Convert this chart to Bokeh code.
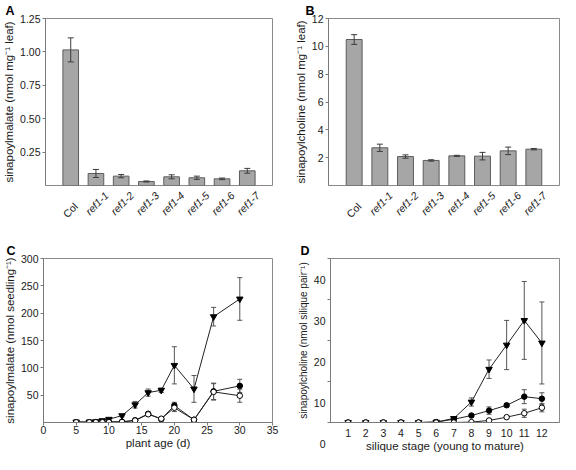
import math
from bokeh.plotting import figure
from bokeh.layouts import column, row
from bokeh.models import (ColumnDataSource, Range1d, FixedTicker,
                          PrintfTickFormatter, Whisker, TeeHead, Label)
from bokeh.embed import file_html
from bokeh.resources import INLINE

FONT = "Liberation Sans"
TEXT = "#1a1a1a"
AXIS = "#7a7a7a"

# ---------------- data ----------------
genotypes = ["Col", "ref1-1", "ref1-2", "ref1-3", "ref1-4", "ref1-5", "ref1-6", "ref1-7"]

malate_leaf = [1.015, 0.09, 0.07, 0.03, 0.065, 0.058, 0.05, 0.11]
malate_leaf_err = [0.09, 0.03, 0.012, 0.004, 0.015, 0.012, 0.006, 0.018]
malate_ticks = [0.25, 0.5, 0.75, 1.0, 1.25]

choline_leaf = [10.49, 2.71, 2.08, 1.80, 2.13, 2.11, 2.49, 2.61]
choline_leaf_err = [0.35, 0.26, 0.12, 0.05, 0.04, 0.27, 0.27, 0.05]
choline_ticks = [2, 4, 6, 8, 10, 12]

plant_age = [5, 7, 8, 9, 10, 12, 14, 16, 18, 20, 23, 26, 30]
c_tri = [1, 1, 1.5, 3.5, 6, 12.6, 32.5, 54.7, 59, 104.6, 61.4, 193.6, 226]
c_tri_err = [0.5, 0.5, 0.5, 1, 1.5, 2, 6, 6.5, 4, 34, 24.5, 17, 39]
c_fill = [0.5, 0.5, 0.8, 1, 1.2, 1.5, 4, 16, 6, 31, 5, 57, 67]
c_fill_err = [0, 0, 0, 0.5, 0.5, 0.5, 1, 2, 1.5, 6, 2, 15, 12]
c_open = [0.3, 0.3, 0.5, 0.5, 0.6, 1, 3.6, 15, 7, 27, 5, 56, 49]
c_open_err = [0, 0, 0, 0.3, 0.3, 0.5, 1, 2, 1.5, 7, 2, 15, 12]
c_xticks = [0, 5, 10, 15, 20, 25, 30, 35]
c_yticks = [50, 100, 150, 200, 250, 300]

silique_stage = [1, 2, 3, 4, 5, 6, 7, 8, 9, 10, 11, 12]
d_tri = [0, 0, 0, 0, 0, 0.1, 1.0, 5.0, 13.0, 18.9, 24.9, 19.4]
d_tri_err = [0, 0, 0, 0, 0, 0, 0.2, 1.0, 2.25, 6, 9.5, 10]
d_fill = [0, 0, 0, 0, 0, 0.1, 0.8, 1.7, 2.9, 4.2, 6.3, 5.8]
d_fill_err = [0, 0, 0, 0, 0, 0, 0.2, 0.3, 0.9, 0.4, 1.7, 1.45]
d_open = [0, 0, 0, 0, 0, 0, 0, 0.1, 0.5, 1.3, 2.25, 3.6]
d_open_err = [0, 0, 0, 0, 0, 0, 0, 0, 0.1, 0.3, 1.0, 1.0]
d_yticks = [0, 10, 20, 30, 40]

TICK_FS = "10.5px"
TITLE_FS = "11.5px"
TOP_H = 229
BOTTOM_H = 225


def style(p, letter_offset, letter_standoff):
    p.outline_line_color = "#8a8a8a"
    p.outline_line_width = 1
    p.xgrid.visible = False
    p.ygrid.visible = False
    for ax in p.axis:
        ax.axis_line_color = AXIS
        ax.major_tick_line_color = AXIS
        ax.minor_tick_line_color = None
        ax.major_tick_in = 0
        ax.major_tick_out = 3
        ax.major_label_standoff = 2
        ax.major_label_text_font = FONT
        ax.major_label_text_font_size = TICK_FS
        ax.major_label_text_color = TEXT
        ax.axis_label_text_font = FONT
        ax.axis_label_text_font_size = TITLE_FS
        ax.axis_label_text_font_style = "normal"
        ax.axis_label_text_color = TEXT
        ax.axis_label_standoff = 2
    p.title.text_font = FONT
    p.title.text_font_size = "12.5px"
    p.title.text_font_style = "bold"
    p.title.text_color = "black"
    p.title.align = "left"
    p.title.offset = letter_offset
    p.title.standoff = letter_standoff


def bar_panel(letter, values, errors, ticks, yend, ylabel, bl, br, letter_x, fmt=None):
    pos = list(range(1, len(genotypes) + 1))
    axis_label_pos = [x + 0.42 for x in pos]
    src = ColumnDataSource(dict(
        x=pos, v=values,
        lo=[v - e for v, e in zip(values, errors)],
        hi=[v + e for v, e in zip(values, errors)]))
    p = figure(width=280, height=TOP_H, title=letter,
               x_range=Range1d(0, len(genotypes) + 1),
               y_range=Range1d(0, yend),
               output_backend="svg", toolbar_location=None,
               min_border_left=bl, min_border_right=br,
               min_border_top=16, min_border_bottom=44)
    p.vbar(x="x", top="v", width=0.62, source=src,
           fill_color="#a6a6a6", line_color="#5c5c5c", line_width=1)
    w = Whisker(base="x", upper="hi", lower="lo", source=src, level="overlay",
                line_color="#3c3c3c", line_width=1,
                upper_head=TeeHead(size=6, line_color="#3c3c3c", line_width=1),
                lower_head=TeeHead(size=6, line_color="#3c3c3c", line_width=1))
    p.add_layout(w)
    style(p, -bl + letter_x, 2)
    p.yaxis.ticker = FixedTicker(ticks=ticks)
    if fmt:
        p.yaxis.formatter = PrintfTickFormatter(format=fmt)
    p.yaxis.axis_label = ylabel
    # mutant names (italic) on the axis, wild type "Col" upright as a label
    xax = p.xaxis[0]
    xax.ticker = FixedTicker(ticks=axis_label_pos[1:])
    xax.major_label_overrides = {lp: g for lp, g in zip(axis_label_pos[1:], genotypes[1:])}
    xax.major_label_orientation = math.pi / 4
    xax.major_label_text_font_style = "italic"
    xax.major_tick_line_color = None
    xax.axis_line_color = None          # frame outline draws the baseline
    xax.major_label_standoff = -15       # compensate the label panel above it
    col = Label(x=pos[0] + 0.2, y=0, y_offset=-19, text=genotypes[0],
                angle=math.pi / 4, text_align="right", text_baseline="middle",
                text_font=FONT, text_font_size=TICK_FS, text_color=TEXT)
    p.add_layout(col, "below")
    p.below = [col] + [r for r in p.below if r is not col]
    return p


def line_panel(letter, x, series, xr, yr, xticks, yticks, xlabel, ylabel,
               bl, br, letter_x):
    p = figure(width=280, height=BOTTOM_H, title=letter,
               x_range=Range1d(*xr), y_range=Range1d(*yr),
               output_backend="svg", toolbar_location=None,
               min_border_left=bl, min_border_right=br,
               min_border_top=29, min_border_bottom=28)
    for kind, vals, errs in series:
        src = ColumnDataSource(dict(x=x, y=vals,
                                    lo=[v - e for v, e in zip(vals, errs)],
                                    hi=[v + e for v, e in zip(vals, errs)]))
        w = Whisker(base="x", upper="hi", lower="lo", source=src, level="underlay",
                    line_color="#555555", line_width=1,
                    upper_head=TeeHead(size=5, line_color="#555555", line_width=1),
                    lower_head=TeeHead(size=5, line_color="#555555", line_width=1))
        p.add_layout(w)
        p.line("x", "y", source=src, line_color="#222222", line_width=1)
        if kind == "tri":
            p.scatter("x", "y", source=src, marker="inverted_triangle", size=6.5,
                      fill_color="black", line_color="black")
        elif kind == "fill":
            p.scatter("x", "y", source=src, marker="circle", size=5.5,
                      fill_color="black", line_color="black")
        else:
            p.scatter("x", "y", source=src, marker="circle", size=5.5,
                      fill_color="white", line_color="black")
    style(p, -bl + letter_x, 2)
    p.xaxis.ticker = FixedTicker(ticks=xticks)
    p.yaxis.ticker = FixedTicker(ticks=yticks)
    p.xaxis.axis_label = xlabel
    p.yaxis.axis_label = ylabel
    p.xaxis.axis_label_standoff = 0
    p.xaxis.major_label_standoff = 0
    return p


pA = bar_panel("A", malate_leaf, malate_leaf_err, malate_ticks, 1.25,
               "sinapoylmalate (nmol mg\u207b\u00b9 leaf)", 41, 8, 1, fmt="%.2f")
pB = bar_panel("B", choline_leaf, choline_leaf_err, choline_ticks, 12,
               "sinapoylcholine (nmol mg\u207b\u00b9 leaf)", 48, 1, 25)

pC = line_panel("C", plant_age,
                [("tri", c_tri, c_tri_err), ("fill", c_fill, c_fill_err), ("open", c_open, c_open_err)],
                (0, 35), (0, 300), c_xticks, c_yticks,
                "plant age (d)", "sinapoylmalate (nmol seedling\u207b\u00b9)",
                38, 8, 1)

pD = line_panel("D", silique_stage,
                [("tri", d_tri, d_tri_err), ("fill", d_fill, d_fill_err), ("open", d_open, d_open_err)],
                (0, 13), (0, 40), silique_stage, d_yticks,
                "silique stage (young to mature)", "sinapoylcholine (nmol silique pair\u207b\u00b9)",
                50, 1, 20)
pD.xaxis.major_tick_line_color = None
pD.xaxis.major_label_standoff = 3
pD.yaxis.axis_label_text_font_size = "10px"
pD.yaxis.major_label_overrides = {t: "\n\n\n" + str(t) for t in d_yticks}

layout = column(row(pA, pB), row(pC, pD))

open("out.html", "w").write(file_html(layout, INLINE))
